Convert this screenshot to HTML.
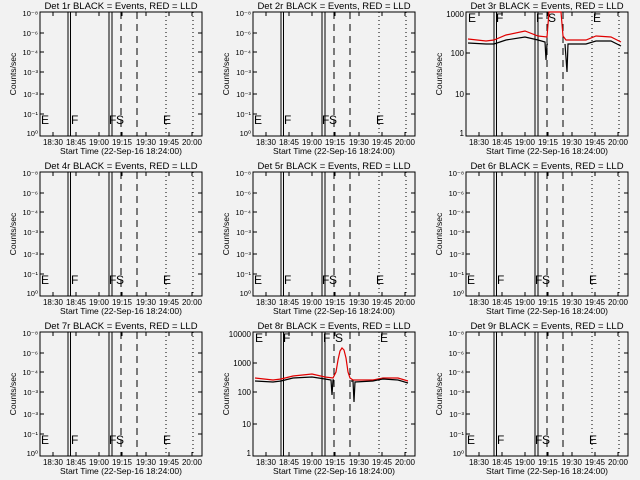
<!DOCTYPE html>
<html><head><meta charset="utf-8"><style>
html,body{margin:0;padding:0;background:#f2f2f2}
svg{display:block}
text{font-family:"Liberation Sans",sans-serif;fill:#000}
</style></head><body>
<svg width="640" height="480" viewBox="0 0 640 480" xmlns="http://www.w3.org/2000/svg">
<defs>
<g id="fr" fill="none" stroke="#000">
<rect x="40" y="12" width="162" height="124" stroke-width="1"/>
<g stroke-width="1">
<line x1="68" y1="12" x2="68" y2="136"/><line x1="70.5" y1="12" x2="70.5" y2="136"/>
<line x1="109" y1="12" x2="109" y2="136"/><line x1="112" y1="12" x2="112" y2="136"/>
<line x1="121" y1="12" x2="121" y2="136" stroke-dasharray="7,5"/>
<line x1="137" y1="12" x2="137" y2="136" stroke-dasharray="7,5"/>
<line x1="166" y1="12" x2="166" y2="136" stroke-dasharray="1,3"/>
<line x1="193" y1="12" x2="193" y2="136" stroke-dasharray="1,3"/>
</g>
<path d="M53 136v-4M76 136v-4M99 136v-4M122 136v-4M146 136v-4M169 136v-4M192 136v-4M53 12v4M76 12v4M99 12v4M122 12v4M146 12v4M169 12v4M192 12v4"/>
</g>
<g id="tx" font-size="8" text-anchor="middle">
<text x="53" y="145">18:30</text><text x="76" y="145">18:45</text><text x="99" y="145">19:00</text><text x="122" y="145">19:15</text><text x="146" y="145">19:30</text><text x="169" y="145">19:45</text><text x="192" y="145">20:00</text>
<text x="121" y="154" font-size="8.5">Start Time (22-Sep-16 18:24:00)</text>
<text transform="translate(16,74) rotate(-90)" font-size="8.5">Counts/sec</text>
</g>
<g id="ey">
<path d="M40 33h4M40 52h4M40 72h4M40 94h4M40 114h4M202 33h-4M202 52h-4M202 72h-4M202 94h-4M202 114h-4" stroke="#000"/>
<g font-size="7.5" text-anchor="end">
<text x="38" y="16">10⁻⁸</text><text x="38" y="36">10⁻⁶</text><text x="38" y="55">10⁻⁴</text><text x="38" y="75">10⁻³</text><text x="38" y="97">10⁻³</text><text x="38" y="117">10⁻¹</text><text x="38" y="136">10⁰</text>
</g>
<g font-size="12"><text x="41" y="124">E</text><text x="71" y="124">F</text><text x="109" y="124">F</text><text x="116" y="124">S</text><text x="163" y="124">E</text></g>
</g>
</defs>

<!-- empty panels -->
<g transform="translate(0,0)"><use href="#fr"/><use href="#tx"/><use href="#ey"/><text x="121" y="9" font-size="9.5" text-anchor="middle">Det 1r BLACK = Events, RED = LLD</text></g>
<g transform="translate(213,0)"><use href="#fr"/><use href="#tx"/><use href="#ey"/><text x="121" y="9" font-size="9.5" text-anchor="middle">Det 2r BLACK = Events, RED = LLD</text></g>
<g transform="translate(0,160)"><use href="#fr"/><use href="#tx"/><use href="#ey"/><text x="121" y="9" font-size="9.5" text-anchor="middle">Det 4r BLACK = Events, RED = LLD</text></g>
<g transform="translate(213,160)"><use href="#fr"/><use href="#tx"/><use href="#ey"/><text x="121" y="9" font-size="9.5" text-anchor="middle">Det 5r BLACK = Events, RED = LLD</text></g>
<g transform="translate(426,160)"><use href="#fr"/><use href="#tx"/><use href="#ey"/><text x="121" y="9" font-size="9.5" text-anchor="middle">Det 6r BLACK = Events, RED = LLD</text></g>
<g transform="translate(0,320)"><use href="#fr"/><use href="#tx"/><use href="#ey"/><text x="121" y="9" font-size="9.5" text-anchor="middle">Det 7r BLACK = Events, RED = LLD</text></g>
<g transform="translate(426,320)"><use href="#fr"/><use href="#tx"/><use href="#ey"/><text x="121" y="9" font-size="9.5" text-anchor="middle">Det 9r BLACK = Events, RED = LLD</text></g>

<!-- panel 3 -->
<g transform="translate(426,0)">
<use href="#fr"/><use href="#tx"/>
<path d="M40 53h4M40 94h4M202 53h-4M202 94h-4" stroke="#000"/>
<g font-size="8" text-anchor="end"><text x="38" y="17">1000</text><text x="38" y="56">100</text><text x="38" y="97">10</text><text x="38" y="136">1</text></g>
<g font-size="12"><text x="42" y="22">E</text><text x="70" y="22">F</text><text x="110" y="22">F</text><text x="122" y="22">S</text><text x="167" y="22">E</text></g>
<polyline fill="none" stroke="#e00000" stroke-width="1.2" points="42,39 60,41 68,40 80,35 99,31 112,36 121,37 123,12 135,12 137,36 140,40 160,40 170,36 185,37 195,42"/>
<polyline fill="none" stroke="#000" stroke-width="1.2" points="42,43 60,44 68,44 80,40 99,37 112,40 119,42 120,60 121,44 122,44"/>
<polyline fill="none" stroke="#000" stroke-width="1.2" points="139,44 141,72 142,44 160,44 170,41 185,41 195,46"/>
<text x="121" y="9" font-size="9.5" text-anchor="middle">Det 3r BLACK = Events, RED = LLD</text>
</g>

<!-- panel 8 -->
<g transform="translate(213,320)">
<use href="#fr"/><use href="#tx"/>
<path d="M40 43h4M40 72h4M40 104h4M202 43h-4M202 72h-4M202 104h-4" stroke="#000"/>
<g font-size="8" text-anchor="end"><text x="38" y="17">10000</text><text x="38" y="46">1000</text><text x="38" y="75">100</text><text x="38" y="107">10</text><text x="38" y="136">1</text></g>
<g font-size="12"><text x="42" y="22">E</text><text x="70" y="22">F</text><text x="110" y="22">F</text><text x="122" y="22">S</text><text x="167" y="22">E</text></g>
<polyline fill="none" stroke="#e00000" stroke-width="1.2" points="42,58 60,60 68,59 80,56 99,54 112,57 120,58 123,52 125,40 127,31 129,28 131,30 133,38 135,52 137,58 140,60 160,60 170,58 185,58 195,61"/>
<polyline fill="none" stroke="#000" stroke-width="1.2" points="42,61 60,62 68,61 80,58 99,57 112,59 118,60 119,75 120,60 121,60"/>
<polyline fill="none" stroke="#000" stroke-width="1.2" points="138,61 140,61 141,82 142,62 160,61 170,59 185,60 195,63"/>
<text x="121" y="9" font-size="9.5" text-anchor="middle">Det 8r BLACK = Events, RED = LLD</text>
</g>
</svg>
</body></html>
